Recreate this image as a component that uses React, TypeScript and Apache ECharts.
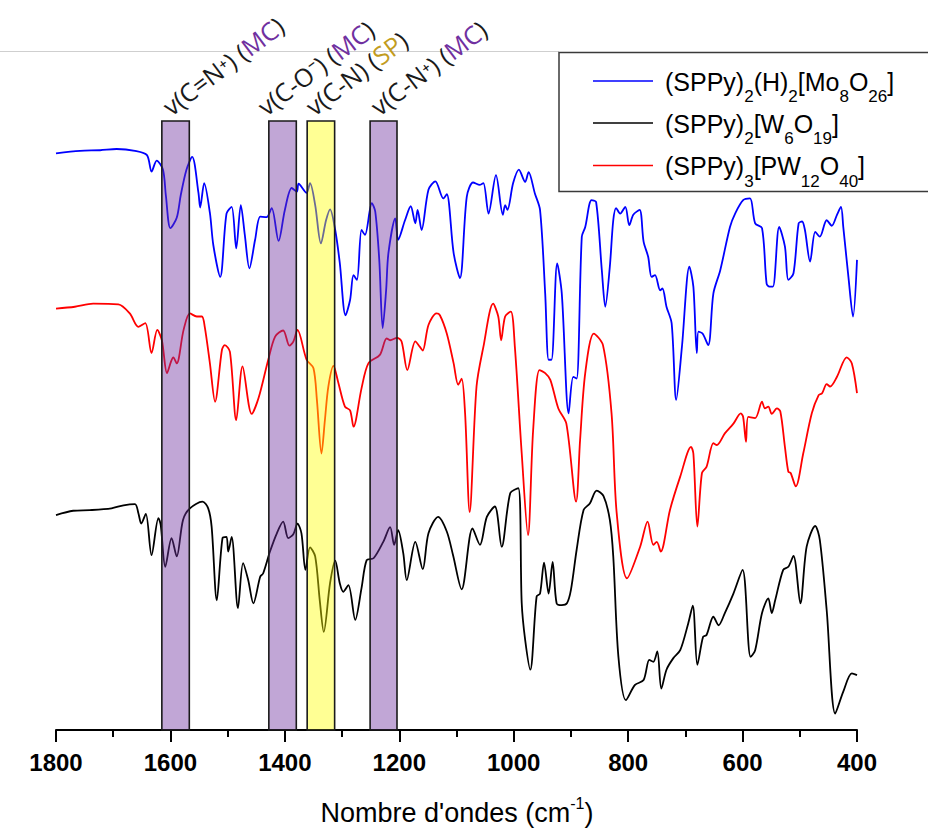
import { useEffect, useRef } from 'react';
import * as echarts from 'echarts';

// ---------- data (wavenumber cm-1, relative transmittance, offset as in the figure) ----------
const SERIES_NAMES = ['(SPPy)2(H)2[Mo8O26]', '(SPPy)2[W6O19]', '(SPPy)3[PW12O40]'];

const moSpectrum: [number, number][] = [
  [1800, 94.7], [1758, 95.1], [1723, 95.2], [1694, 95.4], [1662, 95.1], [1641, 94.4], [1633, 91.7], [1624, 93.5],
  [1613, 92.0], [1608, 87.8], [1600, 82.4], [1589, 84.1], [1582, 87.8], [1572, 92.0], [1562, 94.1], [1551, 88.2],
  [1548, 85.8], [1541, 89.8], [1531, 84.9], [1525, 79.6], [1513, 74.4], [1502, 84.8], [1493, 85.9], [1485, 79.1],
  [1477, 86.2], [1470, 81.3], [1462, 75.8], [1452, 80.5], [1443, 84.3], [1432, 84.2], [1423, 85.7], [1411, 80.3],
  [1400, 85.4], [1388, 89.0], [1379, 88.4], [1376, 89.7], [1362, 88.2], [1356, 89.8], [1347, 86.2], [1337, 79.9],
  [1328, 83.7], [1321, 85.5], [1312, 82.1], [1304, 76.7], [1294, 68.1], [1286, 70.6], [1280, 74.7], [1274, 73.9],
  [1266, 82.1], [1260, 81.3], [1248, 86.5], [1242, 85.1], [1235, 77.2], [1229, 66.0], [1223, 72.2], [1219, 78.3],
  [1207, 84.0], [1202, 80.5], [1190, 83.7], [1180, 86.0], [1172, 83.2], [1168, 85.4], [1161, 82.1], [1149, 88.7],
  [1137, 90.1], [1123, 87.3], [1117, 88.0], [1105, 78.3], [1094, 74.2], [1082, 87.6], [1071, 89.9], [1059, 89.5],
  [1053, 89.8], [1044, 84.8], [1031, 91.1], [1019, 84.6], [1015, 86.2], [1011, 85.4], [1001, 89.8], [991, 92.0],
  [980, 90.0], [974, 91.6], [963, 88.1], [954, 85.4], [945, 71.7], [939, 60.8], [934, 60.8], [924, 76.6],
  [916, 71.7], [904, 52.0], [896, 58.0], [890, 57.7], [881, 81.0], [875, 82.6], [864, 87.0], [856, 86.7],
  [846, 75.5], [840, 69.5], [832, 76.1], [826, 83.7], [821, 85.7], [814, 84.8], [805, 85.9], [798, 82.9],
  [791, 84.6], [780, 85.4], [773, 80.2], [765, 77.7], [759, 74.4], [753, 74.7], [744, 72.2], [740, 72.5],
  [733, 69.5], [724, 66.8], [716, 54.2], [706, 62.9], [693, 76.1], [686, 72.8], [680, 61.9], [677, 65.4],
  [670, 65.1], [660, 63.2], [651, 71.7], [639, 75.5], [622, 82.6], [613, 84.8], [599, 87.0], [587, 87.3],
  [578, 83.2], [566, 82.4], [558, 73.3], [553, 72.8], [547, 72.8], [536, 82.6], [526, 79.4], [520, 73.9],
  [511, 75.0], [502, 83.2], [496, 83.5], [491, 82.1], [482, 76.9], [473, 81.8], [465, 81.0], [453, 83.7],
  [444, 82.8], [435, 84.6], [428, 85.9], [424, 82.6], [415, 74.4], [407, 67.9], [400, 77.2],
];

const wSpectrum: [number, number][] = [
  [1800, 35.3], [1770, 36.0], [1741, 36.1], [1703, 36.4], [1682, 36.9], [1662, 37.1], [1656, 35.6], [1651, 33.9],
  [1643, 35.5], [1633, 28.7], [1621, 34.8], [1617, 33.7], [1609, 26.8], [1598, 31.5], [1589, 28.5], [1578, 34.5],
  [1566, 36.4], [1544, 37.5], [1534, 36.4], [1528, 33.4], [1519, 21.3], [1509, 31.5], [1502, 31.7], [1499, 29.3],
  [1493, 31.7], [1482, 20.0], [1473, 27.4], [1464, 24.6], [1455, 20.8], [1443, 25.2], [1438, 25.7], [1426, 29.3],
  [1414, 32.3], [1403, 34.2], [1394, 31.5], [1385, 32.2], [1378, 33.9], [1371, 32.3], [1364, 26.3], [1356, 30.0],
  [1347, 28.5], [1339, 21.3], [1332, 16.1], [1321, 24.1], [1312, 27.8], [1304, 24.1], [1298, 22.7], [1289, 23.8],
  [1277, 18.1], [1266, 23.3], [1257, 27.9], [1245, 28.2], [1228, 30.9], [1216, 33.3], [1209, 30.4], [1202, 32.8],
  [1193, 29.0], [1187, 24.6], [1172, 30.9], [1159, 26.4], [1149, 32.3], [1132, 35.0], [1117, 32.6], [1106, 28.7],
  [1091, 23.1], [1072, 33.1], [1059, 30.4], [1047, 35.0], [1033, 36.7], [1021, 30.1], [1006, 38.9], [992, 39.7],
  [986, 20.8], [980, 14.8], [971, 9.9], [960, 21.9], [954, 22.4], [947, 27.5], [939, 22.4], [932, 27.6],
  [925, 20.8], [916, 20.5], [907, 20.8], [900, 23.0], [890, 29.6], [878, 36.1], [867, 37.2], [855, 39.3],
  [843, 38.4], [832, 34.5], [826, 28.5], [817, 12.0], [804, 4.9], [788, 7.4], [773, 8.2], [763, 11.5],
  [756, 11.2], [749, 12.9], [742, 6.8], [733, 9.9], [721, 11.8], [709, 13.1], [695, 17.5], [687, 20.4],
  [679, 10.7], [669, 15.3], [663, 15.6], [651, 18.6], [642, 17.2], [631, 19.2], [616, 22.4], [600, 26.3],
  [586, 12.0], [578, 13.1], [566, 19.2], [555, 21.6], [549, 19.2], [543, 21.3], [529, 26.3], [520, 26.8],
  [511, 28.6], [499, 20.8], [488, 30.1], [473, 33.5], [465, 31.2], [453, 19.7], [438, 2.7], [424, 6.3],
  [409, 9.3], [400, 9.0],
];

const pwSpectrum: [number, number][] = [
  [1800, 69.2], [1767, 69.5], [1735, 70.0], [1691, 69.9], [1671, 68.4], [1656, 66.2], [1644, 66.8], [1633, 61.9],
  [1623, 65.7], [1615, 64.0], [1606, 58.6], [1599, 60.5], [1595, 61.2], [1589, 60.2], [1577, 65.7], [1566, 68.4],
  [1554, 67.9], [1545, 67.9], [1540, 66.2], [1531, 60.2], [1522, 53.9], [1510, 62.4], [1505, 63.2], [1496, 62.1],
  [1485, 50.9], [1474, 59.7], [1458, 51.9], [1446, 54.5], [1429, 60.8], [1417, 64.6], [1403, 65.6], [1392, 63.1],
  [1385, 63.8], [1378, 65.7], [1362, 60.8], [1350, 59.4], [1344, 54.2], [1336, 45.4], [1330, 50.9], [1324, 56.4],
  [1315, 59.8], [1307, 57.2], [1295, 53.1], [1286, 52.5], [1280, 49.8], [1266, 56.1], [1254, 60.2], [1234, 61.6],
  [1222, 64.3], [1216, 64.0], [1204, 64.4], [1196, 63.8], [1186, 59.1], [1172, 63.8], [1164, 62.9], [1159, 62.3],
  [1149, 66.5], [1135, 68.4], [1129, 68.1], [1117, 65.1], [1105, 60.2], [1097, 56.7], [1091, 57.7], [1085, 52.0],
  [1077, 35.8], [1065, 56.4], [1053, 62.9], [1036, 70.0], [1027, 67.9], [1022, 64.0], [1015, 67.9], [1005, 68.7],
  [998, 62.9], [986, 45.4], [975, 32.0], [966, 49.3], [955, 59.1], [945, 58.6], [936, 57.5], [922, 52.8],
  [908, 50.3], [891, 37.5], [884, 47.6], [875, 58.6], [860, 65.1], [844, 63.2], [829, 52.0], [820, 35.6],
  [802, 24.9], [779, 30.1], [766, 34.2], [756, 30.4], [750, 30.9], [743, 29.3], [727, 36.1], [709, 41.6],
  [690, 46.5], [686, 45.4], [679, 33.4], [671, 42.2], [663, 43.2], [651, 47.1], [645, 46.8], [631, 48.7],
  [616, 50.3], [603, 52.0], [599, 51.4], [594, 47.3], [590, 51.4], [578, 51.2], [566, 53.9], [561, 52.8],
  [555, 53.1], [549, 51.9], [540, 52.8], [534, 52.3], [526, 46.5], [520, 42.4], [516, 42.2], [507, 40.0],
  [494, 45.4], [479, 52.0], [467, 55.0], [461, 55.3], [453, 56.8], [447, 56.4], [435, 58.0], [418, 61.2],
  [409, 60.2], [400, 55.3],
];

// highlighted bands: [from, to] wavenumbers, assignment, origin
const bandRanges: [number, number][] = [[1615, 1567], [1428, 1380], [1361, 1313], [1251, 1204]];
const bandNames = ['v(C=N⁺)', 'v(C-O⁻)', 'v(C-N)', 'v(C-N⁺)'];
const bandOrigins = ['MC', 'MC', 'SP', 'MC'];

const xTicks = { min: 400, max: 1800, interval: 200 };

export default function App() {
  const ref = useRef<HTMLDivElement>(null);

  useEffect(() => {
    if (!ref.current) return;
    const chart = echarts.init(ref.current, null, { renderer: 'svg' });

    const colors = ['#0000ff', '#000000', '#ff0000'];
    const spectra = [moSpectrum, wSpectrum, pwSpectrum];

    const rot = (37 * Math.PI) / 180;
    const lf = 'Open Sans';
    const labelRich: any = {
      k: { fontSize: 25, fontFamily: lf, fill: '#1a1a1a' },
      m: { fontSize: 25, fontFamily: lf, fill: '#7030a0' },
      p: { fontSize: 25, fontFamily: lf, fill: '#c29c1e' },
    };
    const labelPos = [[173, 119], [268, 119], [316, 119], [381, 119]];
    const bandLabels = bandNames.map((n, i) => ({
      type: 'text',
      x: labelPos[i][0],
      y: labelPos[i][1],
      rotation: rot,
      z: 20,
      style: {
        text: `{k|${n} (}{${bandOrigins[i] === 'SP' ? 'p' : 'm'}|${bandOrigins[i]}}{k|)}`,
        rich: labelRich,
        align: 'left',
        verticalAlign: 'bottom',
      },
    }));

    // main glyphs sit at the top of a taller line; subscripts sit at its bottom
    const legendRich: any = {
      n: { fontSize: 25, lineHeight: 25, fontFamily: 'Liberation Sans', fill: '#000', verticalAlign: 'top' },
      s: { fontSize: 17, lineHeight: 36, fontFamily: 'Liberation Sans', fill: '#000', verticalAlign: 'bottom' },
    };
    const legendTexts = [
      '{n|(SPPy)}{s|2}{n|(H)}{s|2}{n|[Mo}{s|8}{n|O}{s|26}{n|]}',
      '{n|(SPPy)}{s|2}{n|[W}{s|6}{n|O}{s|19}{n|]}',
      '{n|(SPPy)}{s|3}{n|[PW}{s|12}{n|O}{s|40}{n|]}',
    ];
    const rowY = [81, 123, 165.5];
    const legendEls: any[] = [
      {
        type: 'rect', z: 20,
        shape: { x: 559, y: 52.5, width: 390, height: 139 },
        style: { fill: '#fff', stroke: '#3a3a3a', lineWidth: 1.5 },
      },
    ];
    rowY.forEach((y, i) => {
      legendEls.push({
        type: 'line', z: 21,
        shape: { x1: 593, y1: y, x2: 653, y2: y },
        style: { stroke: colors[i], lineWidth: 1.5 },
      });
      legendEls.push({
        type: 'text', z: 21, x: 665, y: y - 12,
        style: { text: legendTexts[i], rich: legendRich, align: 'left', verticalAlign: 'top' },
      });
    });

    const title = {
      type: 'text', z: 20, x: 457, y: 811,
      style: {
        text: "{a|Nombre d'ondes (cm}{s|-1}{a|)}",
        rich: {
          a: { fontSize: 27, lineHeight: 31, fontFamily: 'Liberation Sans', fill: '#000', verticalAlign: 'bottom' },
          s: { fontSize: 16, lineHeight: 10, fontFamily: 'Liberation Sans', fill: '#000', verticalAlign: 'top' },
        },
        align: 'center',
        verticalAlign: 'middle',
      },
    };

    const topRule = {
      type: 'line', z: 19,
      shape: { x1: 0, y1: 51.5, x2: 559, y2: 51.5 },
      style: { stroke: '#cfcfcf', lineWidth: 1 },
    };

    const series: any[] = spectra.map((d, i) => ({
      name: SERIES_NAMES[i],
      type: 'line',
      data: d,
      showSymbol: false,
      smooth: 0.3,
      z: 2,
      lineStyle: { color: colors[i], width: 1.8 },
      itemStyle: { color: colors[i] },
    }));

    series.push({
      type: 'line',
      data: [],
      silent: true,
      z: 5,
      markArea: {
        silent: true,
        z: 10,
        label: { show: false },
        data: bandRanges.map((b, i) => [
          {
            xAxis: b[0],
            itemStyle: {
              color: bandOrigins[i] === 'SP' ? 'rgba(255,255,0,0.42)' : 'rgba(112,48,160,0.43)',
              borderColor: '#1a1a1a',
              borderWidth: 1.6,
            },
          },
          { xAxis: b[1] },
        ]),
      },
    });

    chart.setOption({
      animation: false,
      grid: { left: 56, right: 71, top: 121, bottom: 99, containLabel: false },
      xAxis: {
        type: 'value',
        min: xTicks.min,
        max: xTicks.max,
        interval: xTicks.interval,
        inverse: true,
        axisLine: { show: true, onZero: false, lineStyle: { color: '#000', width: 2 } },
        axisTick: { show: true, inside: false, length: 12, lineStyle: { color: '#000', width: 2 } },
        minorTick: { show: true, splitNumber: 2, length: 7, lineStyle: { color: '#000', width: 2 } },
        splitLine: { show: false },
        minorSplitLine: { show: false },
        axisLabel: {
          fontSize: 24, fontWeight: 'bold', fontFamily: 'Liberation Sans', color: '#000', margin: 20,
          formatter: (v: number) => String(v),
        },
      },
      yAxis: { type: 'value', min: 0, max: 100, show: false },
      series,
      graphic: [topRule, ...legendEls, ...bandLabels, title],
    });

    return () => chart.dispose();
  }, []);

  return (
    <div
      ref={ref}
      style={{ position: 'fixed', left: 0, top: 0, width: 928, height: 829, background: '#fff' }}
    />
  );
}
